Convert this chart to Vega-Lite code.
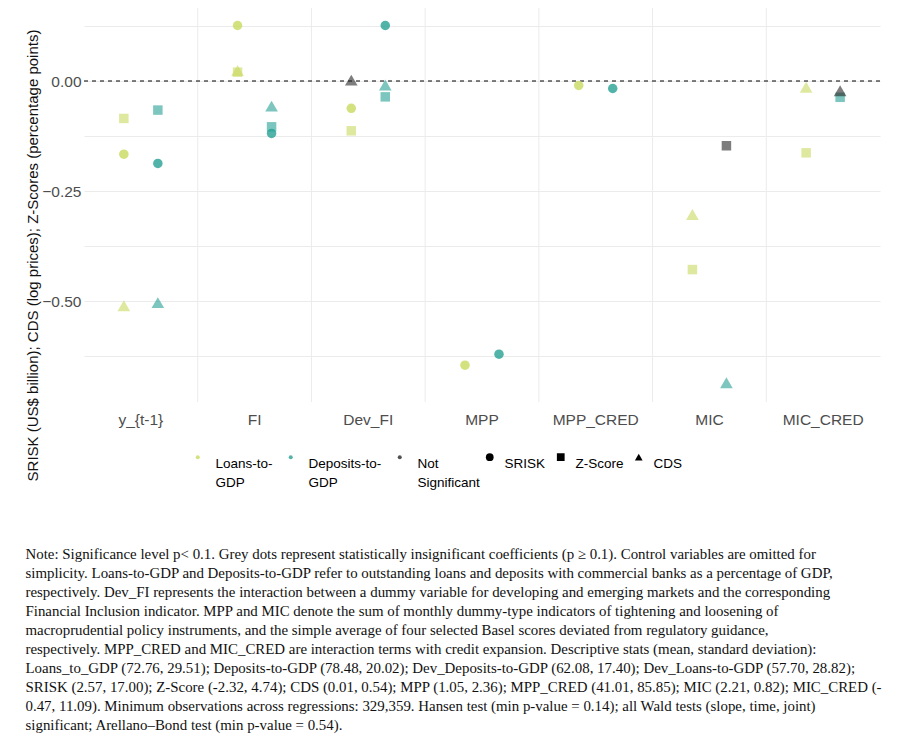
{
  "$schema": "https://vega.github.io/schema/vega-lite/v6.json",
  "autosize": {"type": "none"},
  "padding": {"left": 84, "top": 8, "right": 22, "bottom": 348},
  "width": 796,
  "height": 394,
  "background": "white",
  "title": {
    "text": [
      "Note: Significance level p< 0.1. Grey dots represent statistically insignificant coefficients (p ≥ 0.1). Control variables are omitted for",
      "simplicity. Loans-to-GDP and Deposits-to-GDP refer to outstanding loans and deposits with commercial banks as a percentage of GDP,",
      "respectively. Dev_FI represents the interaction between a dummy variable for developing and emerging markets and the corresponding",
      "Financial Inclusion indicator. MPP and MIC denote the sum of monthly dummy-type indicators of tightening and loosening of",
      "macroprudential policy instruments, and the simple average of four selected Basel scores deviated from regulatory guidance,",
      "respectively. MPP_CRED and MIC_CRED are interaction terms with credit expansion. Descriptive stats (mean, standard deviation):",
      "Loans_to_GDP (72.76, 29.51); Deposits-to-GDP (78.48, 20.02); Dev_Deposits-to-GDP (62.08, 17.40); Dev_Loans-to-GDP (57.70, 28.82);",
      "SRISK (2.57, 17.00); Z-Score (-2.32, 4.74); CDS (0.01, 0.54); MPP (1.05, 2.36); MPP_CRED (41.01, 85.85); MIC (2.21, 0.82); MIC_CRED (-",
      "0.47, 11.09). Minimum observations across regressions: 329,359. Hansen test (min p-value = 0.14); all Wald tests (slope, time, joint)",
      "significant; Arellano–Bond test (min p-value = 0.54)."
    ],
    "orient": "bottom",
    "anchor": "start",
    "frame": "bounds",
    "font": "Liberation Serif",
    "fontSize": 14.9,
    "fontWeight": "normal",
    "lineHeight": 19,
    "color": "#111111",
    "offset": 57
  },
  "config": {
    "view": {"stroke": null},
    "style": {"guide-label": {"lineHeight": 19}},
    "axis": {"domain": false, "ticks": false, "labelFont": "Liberation Sans", "labelColor": "#4d4d4d", "labelFontSize": 15.5, "titleFont": "Liberation Sans", "titleFontWeight": "normal", "titleColor": "#111111", "titleFontSize": 15}
  },
  "layer": [
    {
      "data": {"values": [{"cat": "FI"}, {"cat": "Dev_FI"}, {"cat": "MPP"}, {"cat": "MPP_CRED"}, {"cat": "MIC"}, {"cat": "MIC_CRED"}]},
      "mark": {"type": "rule", "color": "#ebebeb", "strokeWidth": 1},
      "encoding": {
        "x": {"field": "cat", "type": "nominal", "bandPosition": 0, "title": null}
      }
    },
    {
      "data": {"values": [{"z": 0}]},
      "mark": {"type": "rule", "color": "black", "strokeDash": [4, 4], "strokeWidth": 1},
      "encoding": {
        "y": {"field": "z", "type": "quantitative"}
      }
    },
    {
      "data": {"values": [
        {"cat": "y_{t-1}", "series": "Loans", "measure": "SRISK", "group": "Loans-to-GDP", "value": -0.166},
        {"cat": "y_{t-1}", "series": "Loans", "measure": "Z-Score", "group": "Loans-to-GDP", "value": -0.085},
        {"cat": "y_{t-1}", "series": "Loans", "measure": "CDS", "group": "Loans-to-GDP", "value": -0.51},
        {"cat": "y_{t-1}", "series": "Deposits", "measure": "SRISK", "group": "Deposits-to-GDP", "value": -0.187},
        {"cat": "y_{t-1}", "series": "Deposits", "measure": "Z-Score", "group": "Deposits-to-GDP", "value": -0.066},
        {"cat": "y_{t-1}", "series": "Deposits", "measure": "CDS", "group": "Deposits-to-GDP", "value": -0.503},
        {"cat": "FI", "series": "Loans", "measure": "CDS", "group": "Loans-to-GDP", "value": 0.024},
        {"cat": "FI", "series": "Loans", "measure": "SRISK", "group": "Loans-to-GDP", "value": 0.126},
        {"cat": "FI", "series": "Loans", "measure": "Z-Score", "group": "Loans-to-GDP", "value": 0.02},
        {"cat": "FI", "series": "Deposits", "measure": "SRISK", "group": "Deposits-to-GDP", "value": -0.119},
        {"cat": "FI", "series": "Deposits", "measure": "Z-Score", "group": "Deposits-to-GDP", "value": -0.104},
        {"cat": "FI", "series": "Deposits", "measure": "CDS", "group": "Deposits-to-GDP", "value": -0.057},
        {"cat": "Dev_FI", "series": "Loans", "measure": "SRISK", "group": "Loans-to-GDP", "value": -0.062},
        {"cat": "Dev_FI", "series": "Loans", "measure": "Z-Score", "group": "Loans-to-GDP", "value": -0.113},
        {"cat": "Dev_FI", "series": "Loans", "measure": "CDS", "group": "Not Significant", "value": 0.002},
        {"cat": "Dev_FI", "series": "Deposits", "measure": "SRISK", "group": "Deposits-to-GDP", "value": 0.126},
        {"cat": "Dev_FI", "series": "Deposits", "measure": "Z-Score", "group": "Deposits-to-GDP", "value": -0.036},
        {"cat": "Dev_FI", "series": "Deposits", "measure": "CDS", "group": "Deposits-to-GDP", "value": -0.009},
        {"cat": "MPP", "series": "Loans", "measure": "SRISK", "group": "Loans-to-GDP", "value": -0.645},
        {"cat": "MPP", "series": "Deposits", "measure": "SRISK", "group": "Deposits-to-GDP", "value": -0.62},
        {"cat": "MPP_CRED", "series": "Loans", "measure": "SRISK", "group": "Loans-to-GDP", "value": -0.01},
        {"cat": "MPP_CRED", "series": "Deposits", "measure": "SRISK", "group": "Deposits-to-GDP", "value": -0.017},
        {"cat": "MIC", "series": "Loans", "measure": "CDS", "group": "Loans-to-GDP", "value": -0.303},
        {"cat": "MIC", "series": "Loans", "measure": "Z-Score", "group": "Loans-to-GDP", "value": -0.428},
        {"cat": "MIC", "series": "Deposits", "measure": "Z-Score", "group": "Not Significant", "value": -0.147},
        {"cat": "MIC", "series": "Deposits", "measure": "CDS", "group": "Deposits-to-GDP", "value": -0.685},
        {"cat": "MIC_CRED", "series": "Loans", "measure": "CDS", "group": "Loans-to-GDP", "value": -0.014},
        {"cat": "MIC_CRED", "series": "Loans", "measure": "Z-Score", "group": "Loans-to-GDP", "value": -0.163},
        {"cat": "MIC_CRED", "series": "Deposits", "measure": "Z-Score", "group": "Deposits-to-GDP", "value": -0.037},
        {"cat": "MIC_CRED", "series": "Deposits", "measure": "CDS", "group": "Not Significant", "value": -0.022}
      ]},
      "mark": {"type": "point", "filled": true, "strokeWidth": 0},
      "encoding": {
        "x": {
          "field": "cat", "type": "nominal", "sort": null,
          "scale": {"domain": ["y_{t-1}", "FI", "Dev_FI", "MPP", "MPP_CRED", "MIC", "MIC_CRED"], "paddingInner": 0, "paddingOuter": 0},
          "axis": {"title": null, "labelAngle": 0, "labelAlign": "center", "labelPadding": 17, "grid": false}
        },
        "xOffset": {
          "field": "series", "type": "nominal",
          "scale": {"type": "point", "domain": ["Loans", "Deposits"], "range": [39.85, 73.85], "padding": 0}
        },
        "y": {
          "field": "value", "type": "quantitative",
          "scale": {"domain": [-0.7286, 0.1657], "nice": false, "zero": false},
          "axis": {
            "title": "SRISK (US$ billion); CDS (log prices); Z-Scores (percentage points)",
            "values": [-0.625, -0.5, -0.375, -0.25, -0.125, 0, 0.125],
            "labelExpr": "datum.value == 0 ? '0.00' : datum.value == -0.25 ? '−0.25' : datum.value == -0.5 ? '−0.50' : ''",
            "grid": true, "gridColor": "#ebebeb", "gridWidth": 1,
            "labelPadding": 3,
            "titleAngle": -90, "titleAlign": "center", "titleBaseline": "middle",
            "titleX": -51.5, "titleY": 247
          }
        },
        "color": {
          "field": "group", "type": "nominal",
          "scale": {"domain": ["Loans-to-GDP", "Deposits-to-GDP", "Not Significant"], "range": ["#c9d95f", "#27a094", "#262626"]},
          "legend": {
            "orient": "none", "legendX": 107, "legendY": 442, "direction": "horizontal",
            "title": null, "symbolType": "circle", "symbolSize": 16, "symbolOpacity": 0.8, "symbolStrokeWidth": 0,
            "labelFont": "Liberation Sans", "labelFontSize": 13.5, "labelColor": "black", "labelBaseline": "top",
            "labelOffset": 11, "columnPadding": 11, "padding": 0,
            "labelExpr": "datum.label == 'Loans-to-GDP' ? ['Loans-to-', 'GDP'] : datum.label == 'Deposits-to-GDP' ? ['Deposits-to-', 'GDP'] : ['Not', 'Significant']"
          }
        },
        "shape": {
          "field": "measure", "type": "nominal",
          "scale": {"domain": ["SRISK", "Z-Score", "CDS"], "range": ["circle", "square", "M0,-0.866L1,0.866L-1,0.866Z"]},
          "legend": {
            "orient": "none", "legendX": 399, "legendY": 442, "direction": "horizontal",
            "title": null, "symbolSize": 60, "symbolFillColor": "black", "symbolStrokeWidth": 0, "symbolOpacity": 1,
            "labelFont": "Liberation Sans", "labelFontSize": 13.5, "labelColor": "black", "labelBaseline": "top",
            "labelOffset": 8, "columnPadding": 8, "padding": 0
          }
        },
        "size": {"condition": {"test": "datum.measure == 'CDS'", "value": 160}, "value": 90},
        "opacity": {"condition": {"test": "datum.measure == 'SRISK'", "value": 0.8}, "value": 0.6}
      }
    }
  ]
}
